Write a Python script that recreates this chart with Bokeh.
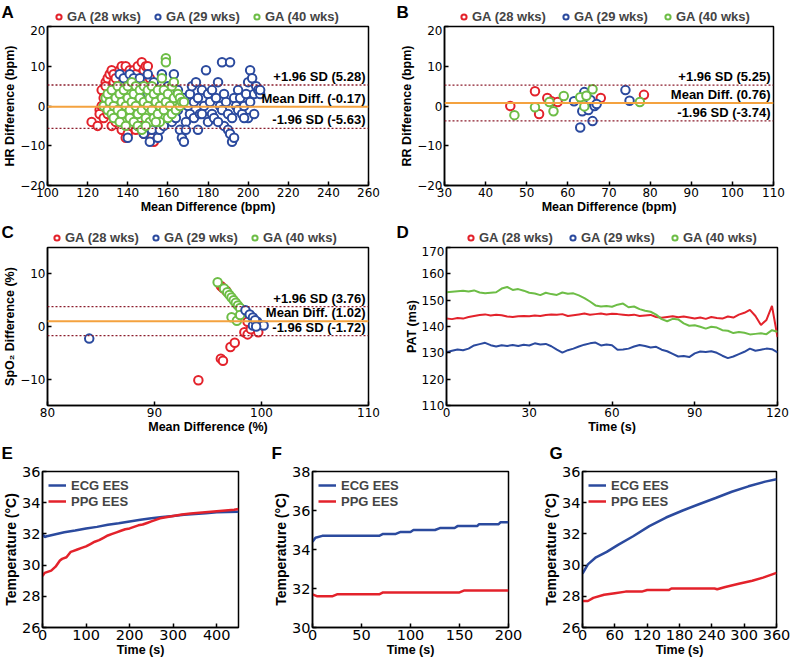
from bokeh.plotting import figure
from bokeh.models import Span, Label, Legend, LegendItem, FixedTicker, Range1d
from bokeh.layouts import column, row
from bokeh.embed import file_html
from bokeh.resources import INLINE

RED = "#e3222b"; BLUE = "#2b4a9e"; GREEN = "#6dbd46"; ORANGE = "#f4a23f"; DOT = "#8b1c2c"
TICK_FONT = "DejaVu Sans"; LAB_FONT = "Liberation Sans"
GA_LABELS = ["GA (28 wks)", "GA (29 wks)", "GA (40 wks)"]

# ---------------- Panel A: HR Bland-Altman ----------------
a_red_x = [122,125,126,126,127,127,128,128,129,129,130,130,131,131,132,132,133,133,134,134,135,136,137,137,138,139,139,140,140,141,142,142,143,144,144,145,146,147,148,148,149,150,151,152,153,150,146,138,135,132]
a_red_y = [-4,-5,-1,-2,0,4,2,-3,6,5,7,-2,8,3,9,-5,8,6,7,-4,5,9,10,-6,8,10,-8,6,-7,9,7,-5,9,8,-6,10,6,11,9,-7,10,10,7,-8,-9,-4,-3,-3,0,1]
a_blue_x = [136,138,140,141,143,145,146,148,150,151,152,153,155,156,157,158,160,161,162,163,164,165,166,167,168,168,169,170,171,171,172,173,173,174,175,175,176,177,178,179,180,180,181,182,182,183,184,185,186,187,187,188,188,189,190,190,191,191,192,192,193,193,194,195,195,196,197,198,199,200,200,201,201,202,203,203,204,205,206,206,198,185,177,169,165,160,155,150]
a_blue_y = [8,7,-8,8,7,-5,7,-7,8,-9,-6,6,-8,-6,8,-5,5,-3,-4,8,-3,4,-6,-8,-9,2,-4,0,3,-2,5,1,-3,6,2,-6,-2,4,0,9,3,-4,1,4,-2,-3,2,6,0,-1,11,-5,3,1,-2,-6,11,-7,-9,-3,-8,2,0,4,-1,2,-2,0,3,-3,6,9,1,7,3,-2,5,4,3,4,-3,-4,-2,-6,-1,2,1,3]
a_green_x = [128,129,130,130,131,132,132,133,134,134,135,135,136,137,137,138,138,139,140,140,141,141,142,142,143,143,144,144,145,145,146,146,147,147,148,148,149,150,150,151,151,152,152,153,153,154,155,155,156,156,157,157,158,158,159,159,159,160,160,161,162,162,163,163,164,165,166,166,167,168,133,136,139,149,154]
a_green_y = [0,2,-1,3,1,-2,4,0,2,-3,5,-1,3,1,-2,4,-4,0,5,2,-1,-3,6,1,3,-4,5,0,-2,-5,4,2,-1,-6,5,1,-3,4,0,2,-4,5,-1,3,-3,1,-2,4,0,-4,7,2,-1,4,12,11,1,-3,3,0,5,-2,2,6,-1,3,0,2,1,1,-3,-4,-5,-5,-4]
a_stats = [5.28, -0.17, -5.63]

# ---------------- Panel B: RR Bland-Altman ----------------
b_red_x = [46,52,53,55,56,57.5,68,78.5]
b_red_y = [0,3.7,-2,2,1.2,1,2,2.8]
b_blue_x = [61.5,63,63.5,64,64.5,65,65.5,66,66.5,67,74,75]
b_blue_y = [1.2,-5.4,-1.3,3.5,2.5,-1,1.5,-3.8,0,0.5,4,1.3]
b_green_x = [47,52,55.5,56.5,59,63,64,64.5,66,77.5]
b_green_y = [-2.3,-0.3,1,-1.3,2.5,2.2,-0.1,2.6,4.2,1]
b_stats = [5.25, 0.76, -3.74]

# ---------------- Panel C: SpO2 Bland-Altman ----------------
c_red_x = [94.1,96.2,96.4,97.1,97.5,96.2,96.4,96.7,98.4,98.7,99.0,99.7,98.7]
c_red_y = [-10.2,-6.1,-6.5,-3.9,-3.1,7.7,7.3,6.8,-1.1,-1.5,-0.5,-1.1,0.9]
c_green_x = [95.9,96.5,96.8,97.0,97.2,97.4,97.6,97.8,98.0,97.2,97.7,98.0]
c_green_y = [8.4,7.2,6.5,6.0,5.5,5.0,4.5,4.0,3.5,1.75,1.1,2.2]
c_blue_x = [83.9,98.5,98.9,99.2,99.2,99.6,99.9,99.4,100.2,99.5]
c_blue_y = [-2.3,3.1,2.3,1.7,0.2,0.9,0.3,1.2,0.2,0.0]
c_stats = [3.76, 1.02, -1.72]

# ---------------- Panel D: PAT vs time ----------------
d_time = list(range(0, 121, 2))
d_red = [143.0,142.8,143.2,143.0,143.6,144.0,144.4,144.6,144.2,144.5,144.3,143.8,143.6,143.9,144.0,143.9,144.2,144.0,144.4,144.6,144.5,144.7,144.0,144.3,144.6,144.9,144.5,144.7,144.9,144.6,144.8,144.7,144.5,144.3,144.5,144.0,144.2,144.4,143.6,143.3,143.6,143.9,143.5,143.8,143.4,143.0,143.4,142.9,143.6,143.2,143.0,143.8,143.4,144.5,145.2,146.3,144.0,140.6,142.5,147.8,136.0]
d_blue = [130.2,130.8,131.3,131.0,131.6,132.8,133.3,133.8,132.9,132.4,132.9,132.6,133.0,132.6,133.1,132.8,133.6,133.2,133.4,132.5,131.2,130.1,131.0,131.6,132.4,133.1,133.6,133.9,132.8,133.2,132.9,131.2,131.3,131.6,132.4,133.0,132.6,132.0,132.3,131.2,130.6,129.6,128.6,128.8,128.4,129.8,130.5,130.3,130.6,130.0,128.9,128.0,128.6,129.5,130.4,131.6,130.8,131.2,131.6,131.4,130.2]
d_green = [153.0,153.2,153.4,153.6,153.3,153.7,152.9,152.6,152.8,153.0,154.4,155.0,153.9,154.2,153.6,152.8,152.5,151.9,152.8,152.3,152.0,152.9,152.4,152.6,151.8,150.8,149.5,148.0,147.6,147.8,147.5,148.3,148.7,147.3,147.6,146.6,146.0,145.6,144.5,142.8,142.0,142.9,142.7,141.2,140.3,140.5,139.9,139.2,139.9,139.6,138.6,138.4,137.5,137.9,137.6,137.0,137.2,137.4,137.1,138.6,138.0]

# ---------------- Panels E, F, G: temperature ----------------
e_ecg_t = [0,5,10,25,50,75,100,125,150,175,200,225,250,275,300,325,350,375,400,425,450]
e_ecg_v = [32.0,31.8,31.85,31.95,32.1,32.22,32.35,32.45,32.58,32.68,32.8,32.9,33.0,33.08,33.15,33.22,33.28,33.33,33.38,33.4,33.42]
e_ppg_t = [0,5,10,20,30,40,45,55,65,70,80,90,100,110,120,130,140,150,160,170,180,190,200,210,220,230,240,250,260,270,280,290,300,320,340,360,380,400,420,440,450]
e_ppg_v = [29.3,29.5,29.55,29.65,29.9,30.3,30.4,30.5,30.85,30.9,31.0,31.1,31.2,31.35,31.5,31.6,31.75,31.9,32.0,32.1,32.2,32.3,32.35,32.45,32.55,32.6,32.7,32.8,32.9,33.0,33.05,33.1,33.15,33.25,33.3,33.35,33.4,33.45,33.5,33.55,33.6]
f_ecg_t = [0,3,10,68,72,85,90,100,103,125,130,145,148,168,170,190,192,200]
f_ecg_v = [34.4,34.6,34.7,34.7,34.8,34.8,34.9,34.9,35.0,35.0,35.1,35.1,35.2,35.2,35.3,35.3,35.4,35.4]
f_ppg_t = [0,5,20,25,68,72,150,155,200]
f_ppg_v = [31.7,31.6,31.6,31.7,31.7,31.8,31.8,31.9,31.9]
g_ecg_t = [0,10,25,45,66,94,124,155,186,216,247,277,308,339,360]
g_ecg_v = [29.45,30.05,30.5,30.85,31.3,31.85,32.5,33.05,33.5,33.9,34.3,34.7,35.05,35.35,35.5]
g_ppg_t = [0,10,20,40,60,80,110,120,160,165,245,250,265,290,315,335,360]
g_ppg_v = [27.7,27.7,27.9,28.1,28.2,28.3,28.3,28.4,28.4,28.5,28.5,28.45,28.6,28.8,29.0,29.2,29.5]


def make_fig(w, h, xr, yr, xt, yt, xlab, ylab, bl, br, bt, bb, tick_size="12px"):
    p = figure(width=w, height=h, x_range=Range1d(*xr), y_range=Range1d(*yr),
               output_backend="svg", toolbar_location=None,
               min_border_left=bl, min_border_right=br, min_border_top=bt, min_border_bottom=bb)
    p.frame_align = False
    p.xaxis.ticker = FixedTicker(ticks=xt)
    p.yaxis.ticker = FixedTicker(ticks=yt)
    p.xaxis.axis_label = xlab
    p.yaxis.axis_label = ylab
    for ax in (p.xaxis[0], p.yaxis[0]):
        ax.major_label_text_font = TICK_FONT
        ax.major_label_text_font_size = tick_size
        ax.major_label_text_color = "black"
        ax.axis_label_text_font = LAB_FONT
        ax.axis_label_text_font_style = "bold"
        ax.axis_label_text_font_size = "12.5px"
        ax.axis_label_text_color = "black"
        ax.major_tick_in = 4
        ax.major_tick_out = 0
        ax.minor_tick_in = 0
        ax.minor_tick_out = 0
        ax.axis_line_width = 1.5
        ax.major_tick_line_width = 1.5
        ax.axis_label_standoff = 0
        ax.major_label_standoff = 2
    p.grid.visible = False
    p.outline_line_color = "black"
    p.outline_line_width = 1.5
    p.outline_line_alpha = 1
    return p


def blank(w, h):
    hp = figure(width=w, height=h, x_range=Range1d(0, 1), y_range=Range1d(0, 1),
                output_backend="svg", toolbar_location=None, min_border=0,
                x_axis_location=None, y_axis_location=None)
    hp.frame_align = False
    hp.outline_line_color = None
    hp.grid.visible = False
    return hp


def add_letter(hp, let, lx, ly):
    hp.add_layout(Label(x=lx, y=ly, x_units="screen", y_units="screen", text=let,
                        text_font=LAB_FONT, text_font_style="bold", text_font_size="17px",
                        text_baseline="alphabetic", text_align="left", text_color="black"))


def header(w, h, series, let, lx, ly, legx, spacing):
    """Strip above a panel holding its letter and its horizontal legend."""
    hp = blank(w, h)
    rs = [hp.scatter(xs[:1], ys[:1], marker="circle", size=0, line_color=c, line_width=2,
                     fill_color="white") for xs, ys, c in series]
    items = [LegendItem(label=l, renderers=[r]) for l, r in zip(GA_LABELS, rs)]
    leg = Legend(items=items, orientation="horizontal", location=(legx, 1),
                 label_text_font=LAB_FONT, label_text_font_style="bold", label_text_font_size="13px",
                 glyph_width=13, glyph_height=13, label_height=15, label_standoff=2, spacing=spacing,
                 padding=0, margin=0, border_line_color=None, background_fill_alpha=0)
    hp.add_layout(leg, "center")
    add_letter(hp, let, lx, ly)
    return hp


def stats_lines(p, stats, xend):
    texts = ["+1.96 SD (%.2f)" % stats[0], "Mean Diff. (%.2f)" % stats[1], "-1.96 SD (%.2f)" % stats[2]]
    for i, (v, t) in enumerate(zip(stats, texts)):
        if i == 1:
            p.add_layout(Span(location=v, dimension="width", line_color=ORANGE, line_width=2))
        else:
            p.add_layout(Span(location=v, dimension="width", line_color=DOT, line_width=1.3, line_dash="2 2"))
        p.add_layout(Label(x=xend, y=v, x_offset=-3, y_offset=1, text=t, text_align="right",
                           text_baseline="bottom", text_font=LAB_FONT, text_font_style="bold",
                           text_font_size="13px", text_color="black"))


def circles(p, xs, ys, color, size=8.5):
    return p.scatter(xs, ys, marker="circle", size=size, line_color=color, line_width=2,
                     fill_color="white")


# ---- A
pA = make_fig(395, 193, (100, 260), (-20, 20), list(range(100, 261, 20)), [-20, -10, 0, 10, 20],
              "Mean Difference (bpm)", "HR Difference (bpm)", 40, 27, 1, 33)
circles(pA, a_red_x, a_red_y, RED)
circles(pA, a_blue_x, a_blue_y, BLUE)
circles(pA, a_green_x, a_green_y, GREEN)
stats_lines(pA, a_stats, 260)
hA = header(395, 25, [(a_red_x, a_red_y, RED), (a_blue_x, a_blue_y, BLUE), (a_green_x, a_green_y, GREEN)],
            "A", 1, 13, 52, 10)

# ---- B
pB = make_fig(395, 193, (30, 110), (-20, 20), list(range(30, 111, 10)), [-20, -10, 0, 10, 20],
              "Mean Difference (bpm)", "RR Difference (bpm)", 49, 17, 1, 33)
stats_lines(pB, b_stats, 110)
circles(pB, b_red_x, b_red_y, RED)
circles(pB, b_blue_x, b_blue_y, BLUE)
circles(pB, b_green_x, b_green_y, GREEN)
hB = header(395, 25, [(b_red_x, b_red_y, RED), (b_blue_x, b_blue_y, BLUE), (b_green_x, b_green_y, GREEN)],
            "B", 1, 13, 62, 13)

# ---- C
pC = make_fig(395, 192, (80, 110), (-15, 15), [80, 90, 100, 110], [-10, 0, 10],
              "Mean Difference (%)", "SpO\u2082 Difference (%)", 40, 27, 1, 33)
stats_lines(pC, c_stats, 110)
circles(pC, c_red_x, c_red_y, RED)
circles(pC, c_green_x, c_green_y, GREEN)
circles(pC, c_blue_x, c_blue_y, BLUE)
hC = header(395, 28, [(c_red_x, c_red_y, RED), (c_blue_x, c_blue_y, BLUE), (c_green_x, c_green_y, GREEN)],
            "C", 1, 14, 50, 10)

# ---- D
pD = make_fig(395, 192, (0, 120), (110, 170), [0, 30, 60, 90, 120], list(range(110, 171, 10)),
              "Time (s)", "PAT (ms)", 51, 13, 1, 33)
pD.line(d_time, d_red, line_color=RED, line_width=2)
pD.line(d_time, d_blue, line_color=BLUE, line_width=2)
pD.line(d_time, d_green, line_color=GREEN, line_width=2)
hD = header(395, 28, [(d_time, d_red, RED), (d_time, d_blue, BLUE), (d_time, d_green, GREEN)],
            "D", 1, 14, 69, 13)


# ---- E, F, G
def temp_fig(w, xr, xt, yr, yt, bl, br, tt, tv, pt, pv):
    p = make_fig(w, 197, xr, yr, xt, yt, "Time (s)", "Temperature (\u00b0C)", bl, br, 7, 34,
                 tick_size="14.5px")
    p.yaxis[0].axis_label_text_font_size = "14px"
    r1 = p.line(tt, tv, line_color=BLUE, line_width=2.5)
    r2 = p.line(pt, pv, line_color=RED, line_width=2.5)
    leg = Legend(items=[LegendItem(label="ECG EES", renderers=[r1]), LegendItem(label="PPG EES", renderers=[r2])],
                 location="top_left", label_text_font=LAB_FONT, label_text_font_style="bold",
                 label_text_font_size="13px", glyph_width=18, glyph_height=16, label_height=16,
                 label_standoff=5, spacing=0, padding=0, margin=6, border_line_color=None,
                 background_fill_alpha=0)
    p.add_layout(leg, "center")
    return p


pE = temp_fig(270, (0, 450), [0, 100, 200, 300, 400], (26, 36), list(range(26, 37, 2)), 40, 32,
              e_ecg_t, e_ecg_v, e_ppg_t, e_ppg_v)
pF = temp_fig(260, (0, 200), [0, 50, 100, 150, 200], (30, 38), list(range(30, 39, 2)), 42, 22,
              f_ecg_t, f_ecg_v, f_ppg_t, f_ppg_v)
pG = temp_fig(260, (0, 360), list(range(0, 361, 60)), (26, 36), list(range(26, 37, 2)), 52, 14,
              g_ecg_t, g_ecg_v, g_ppg_t, g_ppg_v)
hE = blank(270, 26); add_letter(hE, "E", 1, 11)
hF = blank(260, 26); add_letter(hF, "F", 1, 11)
hG = blank(260, 26); add_letter(hG, "G", 19, 11)

layout = column(
    row(column(hA, pA), column(hB, pB)),
    row(column(hC, pC), column(hD, pD)),
    row(column(hE, pE), column(hF, pF), column(hG, pG)),
)
open("out.html", "w").write(file_html(layout, INLINE))
